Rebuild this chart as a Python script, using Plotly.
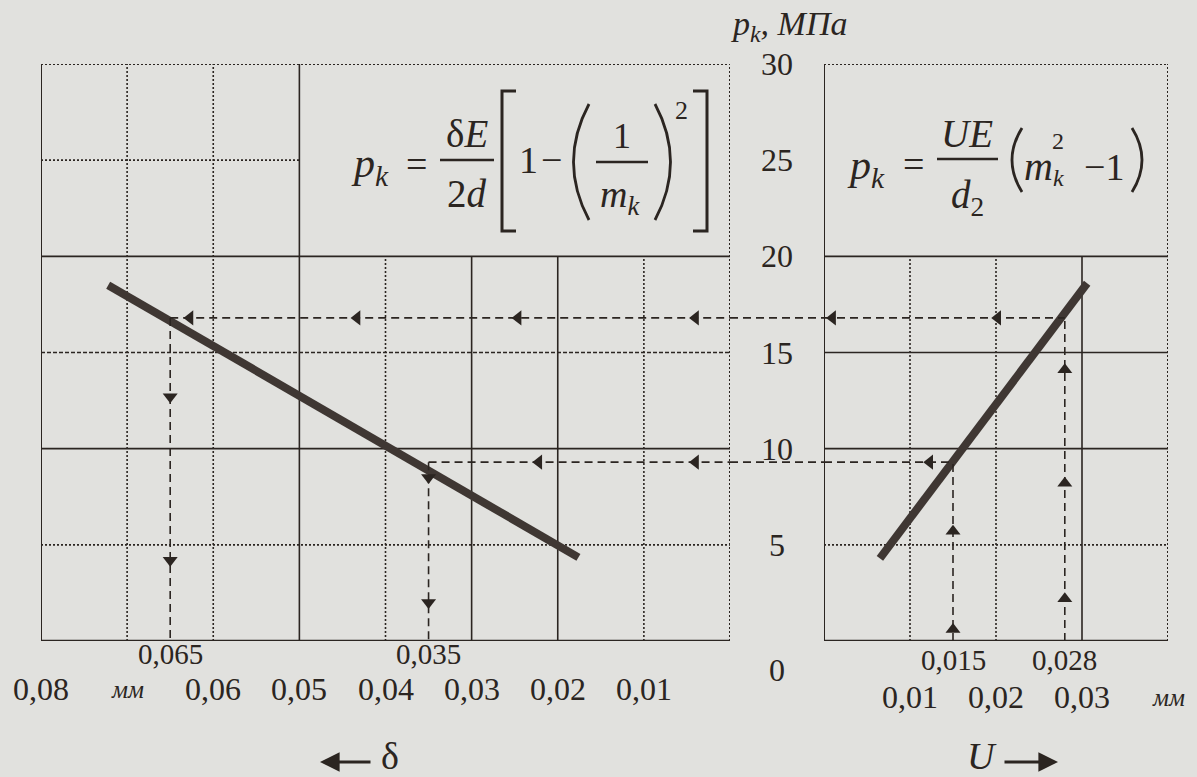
import plotly.graph_objects as go

W, H = 1197, 777
BG = "#e1e1de"
INK = "#2b2521"
LINE_INK = "#3f3733"
FONT = "Liberation Serif"

# ---------------- data ----------------
p_ticks = [0, 5, 10, 15, 20, 25, 30]
p_labels = ["0", "5", "10", "15", "20", "25", "30"]
delta_ticks = [0.08, 0.07, 0.06, 0.05, 0.04, 0.03, 0.02, 0.01]
delta_labels = ["0,08", "<i>мм</i>", "0,06", "0,05", "0,04", "0,03", "0,02", "0,01"]
u_ticks = [0.01, 0.02, 0.03]
u_labels = ["0,01", "0,02", "0,03"]

delta_line = [0.0722, 0.0176]
pk_delta_line = [18.5, 4.35]
u_line = [0.0065, 0.0306]
pk_u_line = [4.3, 18.6]

delta_marks = [0.065, 0.035]
delta_mark_labels = ["0,065", "0,035"]
u_marks = [0.015, 0.028]
u_mark_labels = ["0,015", "0,028"]
pk_marks = [16.8, 9.3]

# arrowheads along construction lines
arrow_left_delta_x = [0.0627, 0.0433, 0.0246, 0.0040, 0.0222, 0.0040]
arrow_left_delta_y = [16.8, 16.8, 16.8, 16.8, 9.3, 9.3]
arrow_left_u_x = [0.0010, 0.0202, 0.0123]
arrow_left_u_y = [16.8, 16.8, 9.3]
arrow_down_x = [0.065, 0.065, 0.035, 0.035]
arrow_down_y = [12.7, 4.2, 8.5, 2.0]
arrow_up_x = [0.015, 0.015, 0.028, 0.028, 0.028]
arrow_up_y = [0.6, 5.7, 2.2, 8.2, 14.1]

# ---------------- geometry helpers ----------------
def px(x):
    return x / W

def py(y):
    return 1 - y / H

XL = [px(41), px(730)]
XR = [px(824), px(1168)]
YD = [py(641), py(64)]

fig = go.Figure()

thick = dict(color=LINE_INK, width=8)
DASH = "8px,5px"
DOT = "2px,2px"
dash = dict(color=INK, width=1.6, dash=DASH)

# main lines
fig.add_trace(go.Scatter(x=delta_line, y=pk_delta_line, xaxis="x", yaxis="y",
                         mode="lines", line=thick, hoverinfo="skip"))
fig.add_trace(go.Scatter(x=u_line, y=pk_u_line, xaxis="x2", yaxis="y",
                         mode="lines", line=thick, hoverinfo="skip"))

# construction lines
for d, p in zip(delta_marks, pk_marks):
    fig.add_trace(go.Scatter(x=[d, 0], y=[p, p], xaxis="x", yaxis="y",
                             mode="lines", line=dash, hoverinfo="skip"))
    fig.add_trace(go.Scatter(x=[d, d], y=[p, 0], xaxis="x", yaxis="y",
                             mode="lines", line=dash, hoverinfo="skip"))
for u, p in zip(u_marks, pk_marks[::-1]):
    fig.add_trace(go.Scatter(x=[0, u], y=[p, p], xaxis="x2", yaxis="y",
                             mode="lines", line=dash, hoverinfo="skip"))
    fig.add_trace(go.Scatter(x=[u, u], y=[0, p], xaxis="x2", yaxis="y",
                             mode="lines", line=dash, hoverinfo="skip"))

mk = dict(color=INK, size=13)
fig.add_trace(go.Scatter(x=arrow_left_delta_x, y=arrow_left_delta_y, xaxis="x", yaxis="y",
                         mode="markers", marker=dict(symbol="triangle-left", **mk), hoverinfo="skip"))
fig.add_trace(go.Scatter(x=arrow_left_u_x, y=arrow_left_u_y, xaxis="x2", yaxis="y",
                         mode="markers", marker=dict(symbol="triangle-left", **mk), hoverinfo="skip"))
fig.add_trace(go.Scatter(x=arrow_down_x, y=arrow_down_y, xaxis="x", yaxis="y",
                         mode="markers", marker=dict(symbol="triangle-down", **mk), hoverinfo="skip"))
fig.add_trace(go.Scatter(x=arrow_up_x, y=arrow_up_y, xaxis="x2", yaxis="y",
                         mode="markers", marker=dict(symbol="triangle-up", **mk), hoverinfo="skip"))

shapes = []

def seg(xref, x0, x1, y0, y1, style="solid", width=1.6):
    shapes.append(dict(type="line", xref=xref, yref="y", x0=x0, x1=x1, y0=y0, y1=y1,
                       line=dict(color=INK, width=width, dash=style), layer="below"))

# gap segments of the construction lines
for p in pk_marks:
    shapes.append(dict(type="line", xref="paper", yref="y", x0=XL[1], x1=XR[0], y0=p, y1=p,
                       line=dict(color=INK, width=1.6, dash=DASH)))

# left panel grid
left_v_style = {0.07: DOT, 0.06: DOT, 0.05: "solid", 0.04: DOT, 0.03: "solid", 0.02: "solid", 0.01: DOT}
left_v_top = {0.07: 30, 0.06: 30, 0.05: 30}
for v in delta_ticks[1:]:
    seg("x", v, v, 0, left_v_top.get(v, 20), left_v_style[v])
h_style = {5: DOT, 10: "solid", 15: "4px,2px", 20: "solid"}
for h in p_ticks[1:5]:
    seg("x", delta_ticks[0], 0, h, h, h_style[h])
seg("x", delta_ticks[0], delta_ticks[3], 25, 25, DOT)
# left border
seg("x", delta_ticks[0], delta_ticks[0], 0, 30, "solid", 2)
seg("x", delta_ticks[0], 0, 0, 0, "solid", 2.4)
seg("x", delta_ticks[0], 0, 30, 30, DOT, 2)
seg("x", 0, 0, 0, 30, DOT, 2)

# right panel grid
right_v_style = {0.01: DOT, 0.02: DOT, 0.03: "solid"}
for v in u_ticks:
    seg("x2", v, v, 0, 20, right_v_style[v])
rh_style = {5: DOT, 10: "solid", 15: "solid", 20: "solid"}
for h in p_ticks[1:5]:
    seg("x2", 0, 0.04, h, h, rh_style[h])
seg("x2", 0, 0, 0, 30, "solid", 2)
seg("x2", 0, 0.04, 0, 0, "solid", 2.4)
seg("x2", 0, 0.04, 30, 30, DOT, 2)
seg("x2", 0.04, 0.04, 0, 30, DOT, 2)

# ---------------- formula drawings ----------------
def pline(x0, y0, x1, y1, w=2.4):
    shapes.append(dict(type="line", xref="paper", yref="paper",
                       x0=px(x0), y0=py(y0), x1=px(x1), y1=py(y1),
                       line=dict(color=INK, width=w)))

def ppath(points, w=2.6, curve=False):
    if curve:
        (xa, ya), (xc, yc), (xb, yb) = points
        d = f"M {px(xa)},{py(ya)} Q {px(xc)},{py(yc)} {px(xb)},{py(yb)}"
    else:
        d = "M " + " L ".join(f"{px(x)},{py(y)}" for x, y in points)
    shapes.append(dict(type="path", xref="paper", yref="paper", path=d,
                       line=dict(color=INK, width=w)))

# left formula
pline(440, 160, 494, 160)
pline(596, 162, 648, 162)
ppath([(516, 91), (502, 91), (502, 231), (516, 231)], 3)
ppath([(693, 91), (707, 91), (707, 231), (693, 231)], 3)
ppath([(589, 104), (558, 162), (589, 220)], 2.8, curve=True)
ppath([(655, 104), (686, 162), (655, 220)], 2.8, curve=True)
# right formula
pline(937, 159, 998, 159)
ppath([(1022, 128), (1002, 160), (1022, 192)], 2.8, curve=True)
ppath([(1132, 128), (1152, 160), (1132, 192)], 2.8, curve=True)

annotations = []

def txt(text, x, y, size, xanchor="center", yshift=0, xref="paper", yref="paper"):
    annotations.append(dict(text=text, x=x, y=y, xref=xref, yref=yref,
                            xanchor=xanchor, yanchor="middle", showarrow=False,
                            yshift=yshift, font=dict(family=FONT, size=size, color=INK)))

def ptxt(text, x, y, size, xanchor="center"):
    txt(text, px(x), py(y), size, xanchor)

ptxt("<i>p</i><sub><i>k</i></sub>", 370, 166, 42)
ptxt("=", 416, 164, 38)
ptxt("δ<i>E</i>", 467, 133, 39)
ptxt("2<i>d</i>", 467, 193, 39)
ptxt("1", 528, 160, 38)
ptxt("−", 551, 160, 38)
ptxt("1", 622, 136, 36)
ptxt("<i>m</i><sub><i>k</i></sub>", 620, 197, 38)
ptxt("2", 681, 111, 26)

ptxt("<i>p</i><sub><i>k</i></sub>", 866, 168, 42)
ptxt("=", 913, 164, 38)
ptxt("<i>UE</i>", 967, 133, 39)
ptxt("<i>d</i><sub>2</sub>", 967, 197, 39)
ptxt("<i>m</i>", 1038, 167, 40)
ptxt("2", 1058, 141, 24)
ptxt("<i>k</i>", 1058, 178, 24)
ptxt("−1", 1104, 167, 38)

# axis title
ptxt("<i>p<sub>k</sub>, МПа</i>", 789, 26, 34)

# y tick labels (between panels)
for v, lab in zip(p_ticks, p_labels):
    txt(lab, px(777), v, 32, yshift=(-29 if v == 0 else 0), yref="y")

# left x tick labels
for v, lab in zip(delta_ticks, delta_labels):
    size = 25 if "мм" in lab else 32
    annotations.append(dict(text=lab, x=v, y=py(689), xref="x", yref="paper",
                            xanchor="center", yanchor="middle", showarrow=False,
                            font=dict(family=FONT, size=size, color=INK)))
for v, lab in zip(delta_marks, delta_mark_labels):
    annotations.append(dict(text=lab, x=v, y=py(654), xref="x", yref="paper",
                            xanchor="center", yanchor="middle", showarrow=False,
                            font=dict(family=FONT, size=29, color=INK)))
# right x tick labels
for v, lab in zip(u_ticks, u_labels):
    annotations.append(dict(text=lab, x=v, y=py(697), xref="x2", yref="paper",
                            xanchor="center", yanchor="middle", showarrow=False,
                            font=dict(family=FONT, size=32, color=INK)))
annotations.append(dict(text="<i>мм</i>", x=0.04, y=py(697), xref="x2", yref="paper",
                        xanchor="center", yanchor="middle", showarrow=False,
                        font=dict(family=FONT, size=25, color=INK)))
for v, lab in zip(u_marks, u_mark_labels):
    annotations.append(dict(text=lab, x=v, y=py(660), xref="x2", yref="paper",
                            xanchor="center", yanchor="middle", showarrow=False,
                            font=dict(family=FONT, size=29, color=INK)))

# direction arrows
ptxt("δ", 390, 756, 38)
annotations.append(dict(text="", x=px(320), y=py(762), xref="paper", yref="paper",
                        ax=52, ay=0, showarrow=True, arrowhead=2, arrowsize=1.4,
                        arrowwidth=2.8, arrowcolor=INK))
ptxt("<i>U</i>", 982, 756, 38)
annotations.append(dict(text="", x=px(1058), y=py(762), xref="paper", yref="paper",
                        ax=-55, ay=0, showarrow=True, arrowhead=2, arrowsize=1.4,
                        arrowwidth=2.8, arrowcolor=INK))

axis_common = dict(showgrid=False, zeroline=False, showticklabels=False, ticks="",
                   showline=False, fixedrange=True)

fig.update_layout(
    width=W, height=H,
    margin=dict(l=0, r=0, t=0, b=0),
    paper_bgcolor=BG, plot_bgcolor=BG,
    showlegend=False,
    xaxis=dict(domain=XL, range=[0.08, 0], anchor="y", **axis_common),
    xaxis2=dict(domain=XR, range=[0, 0.04], anchor="y", **axis_common),
    yaxis=dict(domain=YD, range=[0, 30], anchor="x", **axis_common),
    shapes=shapes,
    annotations=annotations,
    font=dict(family=FONT, color=INK),
)

fig.write_html("out.html",
               config={"displayModeBar": False},
               post_script="document.body.style.margin='0px';document.body.style.padding='0px';document.body.style.overflow='hidden';document.body.style.background='" + BG + "';")
